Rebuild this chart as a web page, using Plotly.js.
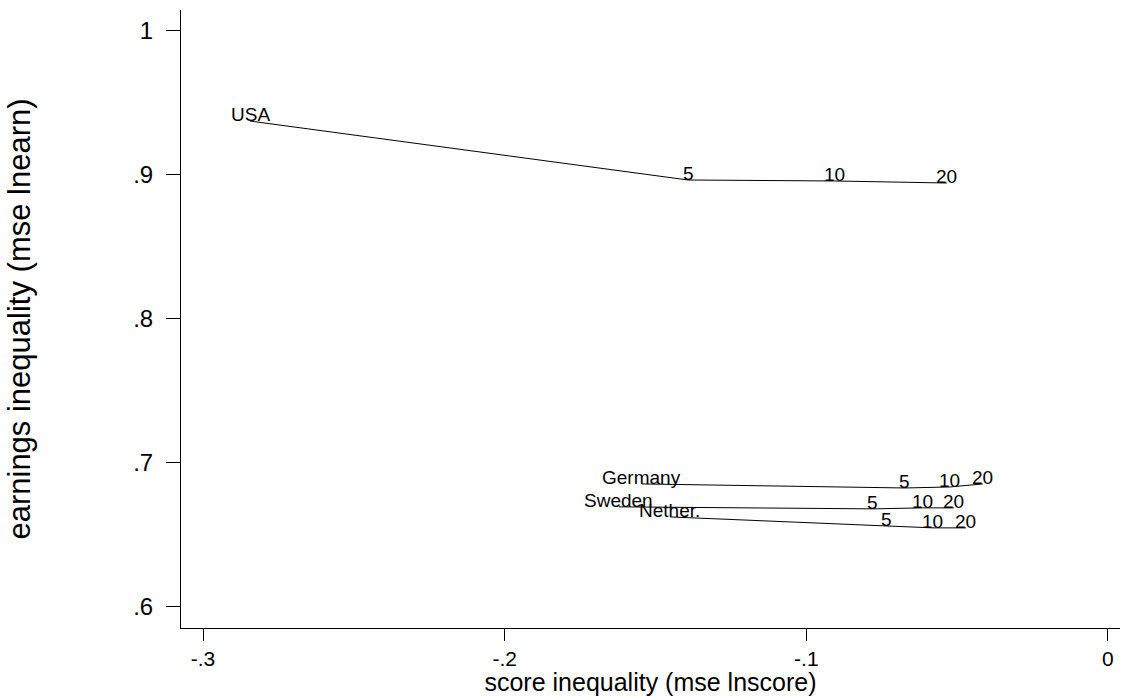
<!DOCTYPE html>
<html>
<head>
<meta charset="utf-8">
<script src="https://cdn.plot.ly/plotly-3.0.1.min.js"></script>
<style>html,body{margin:0;padding:0;background:#fff;}#chart{width:1123px;height:696px;}</style>
</head>
<body>
<div id="chart"></div>
<script>
// Point labels: country name at start, then years (5, 10, 20)
const pointLabels = ["", "5", "10", "20"];
const countries = ["USA", "Germany", "Sweden", "Nether."];

// score inequality (x) and earnings inequality (y) for each country
const usaX = [-0.2844, -0.1392, -0.0905, -0.0534];
const usaY = [0.9373, 0.8964, 0.8957, 0.8943];
const germanyX = [-0.1545, -0.0673, -0.0524, -0.0415];
const germanyY = [0.6854, 0.6826, 0.6833, 0.6854];
const swedenX = [-0.1621, -0.0779, -0.0614, -0.0511];
const swedenY = [0.6695, 0.6681, 0.6688, 0.6688];
const netherX = [-0.1452, -0.0733, -0.0580, -0.0471];
const netherY = [0.6625, 0.6563, 0.6549, 0.6549];

// Axis ticks
const xTickVals = [-0.3, -0.2, -0.1, 0];
const xTickText = ["-.3", "-.2", "-.1", "0"];
const yTickVals = [0.6, 0.7, 0.8, 0.9, 1.0];
const yTickText = [".6", ".7", ".8", ".9", "1"];

const FONT = "Liberation Sans, Arial, sans-serif";
const seriesX = [usaX, germanyX, swedenX, netherX];
const seriesY = [usaY, germanyY, swedenY, netherY];

const traces = [];
const annotations = [];
seriesX.forEach((xs, i) => {
  traces.push({
    x: xs, y: seriesY[i], type: "scatter", mode: "lines",
    line: {color: "#000", width: 1}, hoverinfo: "skip", showlegend: false
  });
  xs.forEach((xv, j) => {
    annotations.push({
      x: xv, y: seriesY[i][j], xref: "x", yref: "y",
      text: j === 0 ? countries[i] : pointLabels[j],
      showarrow: false, xanchor: "center", yanchor: "bottom", yshift: -6,
      font: {family: FONT, size: 19, color: "#000"}
    });
  });
});

const layout = {
  width: 1123, height: 696,
  margin: {l: 181, r: 3, t: 10, b: 68},
  paper_bgcolor: "#fff", plot_bgcolor: "#fff",
  showlegend: false,
  font: {family: FONT, color: "#000"},
  annotations: annotations,
  xaxis: {
    range: [-0.3073, 0.0040],
    tickvals: xTickVals, ticktext: xTickText,
    ticks: "outside", ticklen: 12, tickwidth: 1, tickcolor: "#000",
    showline: true, linecolor: "#000", linewidth: 1,
    showgrid: false, zeroline: false,
    tickfont: {family: FONT, size: 21, color: "#000"},
    title: {text: "score inequality (mse lnscore)", font: {family: FONT, size: 25, color: "#000"}, standoff: 3}
  },
  yaxis: {
    range: [0.5854, 1.0144],
    tickvals: yTickVals, ticktext: yTickText,
    ticks: "outside", ticklen: 14, tickwidth: 1, tickcolor: "#000",
    ticklabelstandoff: 8,
    showline: true, linecolor: "#000", linewidth: 1,
    showgrid: false, zeroline: false,
    tickfont: {family: FONT, size: 24, color: "#000"},
    title: {text: "earnings inequality (mse lnearn)", font: {family: FONT, size: 31, color: "#000"}, standoff: 93}
  }
};

Plotly.newPlot("chart", traces, layout, {displayModeBar: false, staticPlot: true});
</script>
</body>
</html>
